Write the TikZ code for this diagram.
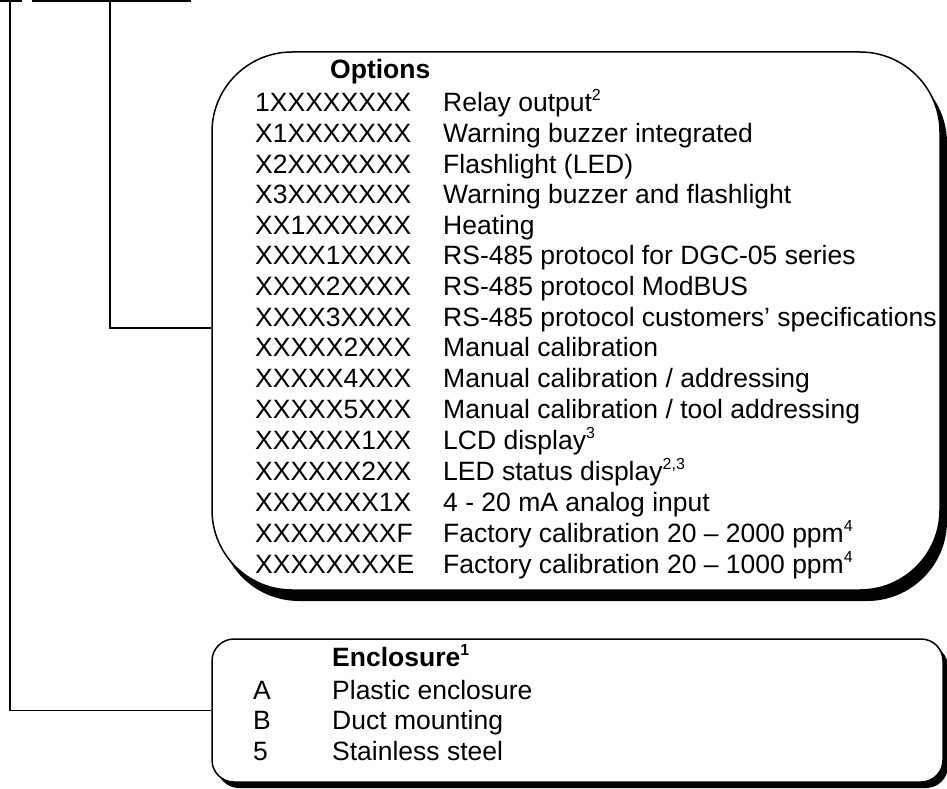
\documentclass[tikz,border=0pt]{standalone}
\usepackage{fontspec}
\setmainfont{Liberation Sans}
\usetikzlibrary{shadows}
\usetikzlibrary{positioning}

\newcommand{\notemark}[1]{\raisebox{11pt}{\fontsize{16}{16}\selectfont #1}}

\begin{document}
\begin{tikzpicture}[
            x=1pt, y=-1pt,
            groupbox/.style = {draw, line width=1.5pt, fill=white, inner sep=0},
            wire/.style = {line width=1.5pt},
            listtext/.style = {anchor=base west, inner sep=0, font=\fontsize{26.5}{30.6}\selectfont},
            titletext/.style = {anchor=base west, inner sep=0, font=\fontsize{26.5}{30}\selectfont\bfseries}
          ]
          \useasboundingbox (0,0) rectangle (947,789);

          \node[groupbox, rounded corners=80pt, minimum width=728pt, minimum height=538pt,
                general shadow={fill=black, shadow xshift=7pt, shadow yshift=-11pt}] (options) at (576,321) {};
          \node[groupbox, rounded corners=22pt, minimum width=731pt, minimum height=143pt,
                general shadow={fill=black, shadow xshift=5pt, shadow yshift=-6pt}] (encl) at (577.5,710.5) {};

          \node[titletext] (opttitle) at (330,79) {Options};
          \node[listtext] (optlist) at (255,112) {\begin{tabular}[t]{@{}p{188pt}@{}l@{}}
            1XXXXXXXX & Relay output\notemark{2}\\
            X1XXXXXXX & Warning buzzer integrated\\
            X2XXXXXXX & Flashlight (LED)\\
            X3XXXXXXX & Warning buzzer and flashlight\\
            XX1XXXXXX & Heating\\
            XXXX1XXXX & RS-485 protocol for DGC-05 series\\
            XXXX2XXXX & RS-485 protocol ModBUS\\
            XXXX3XXXX & RS-485 protocol customers’ specifications\\
            XXXXX2XXX & Manual calibration\\
            XXXXX4XXX & Manual calibration / addressing\\
            XXXXX5XXX & Manual calibration / tool addressing\\
            XXXXXX1XX & LCD display\notemark{3}\\
            XXXXXX2XX & LED status display\notemark{2,3}\\
            XXXXXXX1X & 4 - 20 mA analog input\\
            XXXXXXXXF & Factory calibration 20 – 2000 ppm\notemark{4}\\
            XXXXXXXXE & Factory calibration 20 – 1000 ppm\notemark{4}
          \end{tabular}};

          \node[titletext] (encltitle) at (332,666) {Enclosure\notemark{1}};
          \node[listtext] (encllist) at (253,699) {\begin{tabular}[t]{@{}p{79pt}@{}l@{}}
            A & Plastic enclosure\\
            B & Duct mounting\\
            5 & Stainless steel
          \end{tabular}};

          % cut-off lines at the top
          \coordinate (tick1a) at (0,1);
          \coordinate (tick1b) at (22,1);
          \coordinate (tick2a) at (32,1);
          \coordinate (tick2b) at (191,1);
          \coordinate (drop1) at (10,1);
          \coordinate (drop2) at (110,1);

          \draw[wire] (tick1a) -- (tick1b);
          \draw[wire] (tick2a) -- (tick2b);
          \draw[wire] (drop1) |- (encl.west);
          \draw[wire] (drop2) |- ([yshift=-7pt]options.west);
        \end{tikzpicture}
\end{document}
